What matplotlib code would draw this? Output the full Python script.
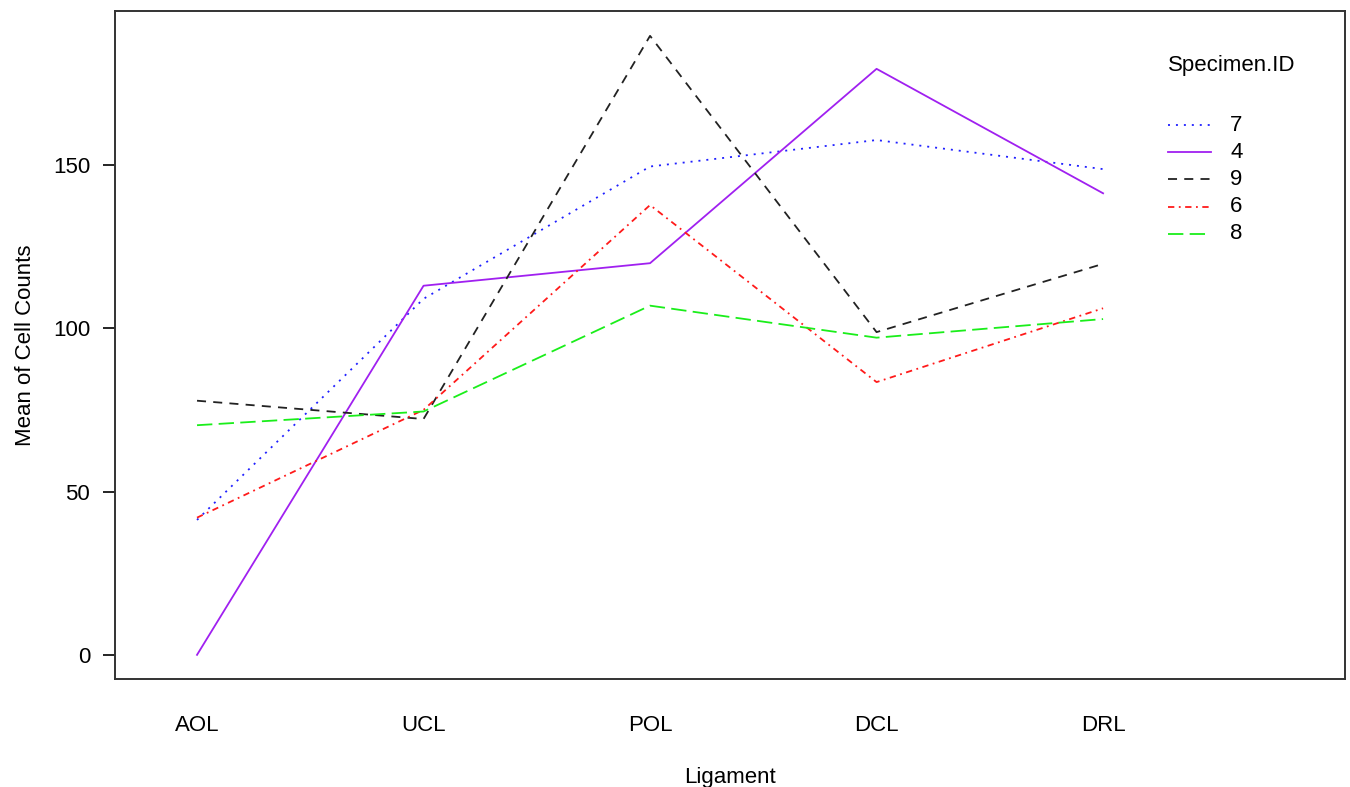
import numpy as np
import matplotlib.pyplot as plt

plt.rcParams['font.family'] = ['Liberation Sans', 'DejaVu Sans']

ligaments = ['AOL', 'UCL', 'POL', 'DCL', 'DRL']
specimens = ['7', '4', '9', '6', '8']

# mean cell counts per specimen, in ligament order
spec7 = [41.3, 109.0, 149.5, 157.6, 148.7]
spec4 = [0.0, 113.0, 119.9, 179.4, 141.3]
spec9 = [77.8, 72.2, 189.5, 98.8, 119.7]
spec6 = [42.0, 75.0, 137.7, 83.5, 106.1]
spec8 = [70.3, 74.5, 106.9, 97.1, 102.8]
series = [spec7, spec4, spec9, spec6, spec8]

colors = ['#2020ff', '#a020f0', '#222222', '#ff1a1a', '#1aee1a']
dashes = [(1.1, 3.3), (), (5.0, 4.0), (3.5, 2.5, 1.0, 2.5), (8.5, 3.5)]
FS = 16

fig = plt.figure(figsize=(13.5, 7.87), dpi=100)
ax = fig.add_axes([0.0852, 0.1372, 0.9111, 0.8488])

x = np.arange(1, len(ligaments) + 1)
for vals, c, d in zip(series, colors, dashes):
    if d:
        ax.plot(x, vals, color=c, lw=1.3, linestyle='--', dashes=d)
    else:
        ax.plot(x, vals, color=c, lw=1.3, linestyle='-')

ax.set_xlim(0.638, 6.068)
ax.set_ylim(-7.4, 197.1)

ax.set_xticks(x)
ax.set_xticklabels(ligaments, fontsize=FS)
ax.tick_params(axis='x', length=0, pad=26)
ax.set_yticks([0, 50, 100, 150])
ax.tick_params(axis='y', length=9, width=1.2, labelsize=FS, pad=9)

for s in ax.spines.values():
    s.set_linewidth(1.4)
    s.set_color('#333333')

ax.set_xlabel('Ligament', fontsize=FS, labelpad=22)
ax.set_ylabel('Mean of Cell Counts', fontsize=FS, labelpad=12)

# legend drawn by hand in axes fraction coordinates
tr = ax.transAxes
ax.text(0.856, 0.919, 'Specimen.ID', transform=tr, fontsize=FS,
        va='center', ha='left')
y0 = 0.829
dy = 0.0406
for i, (lab, c, d) in enumerate(zip(specimens, colors, dashes)):
    yy = y0 - i * dy
    if d:
        ax.plot([0.856, 0.891], [yy, yy], transform=tr, color=c, lw=1.3,
                linestyle='--', dashes=d)
    else:
        ax.plot([0.856, 0.891], [yy, yy], transform=tr, color=c, lw=1.3)
    ax.text(0.9065, yy, lab, transform=tr, fontsize=FS, va='center', ha='left')

fig.savefig('out.png', dpi=100)
